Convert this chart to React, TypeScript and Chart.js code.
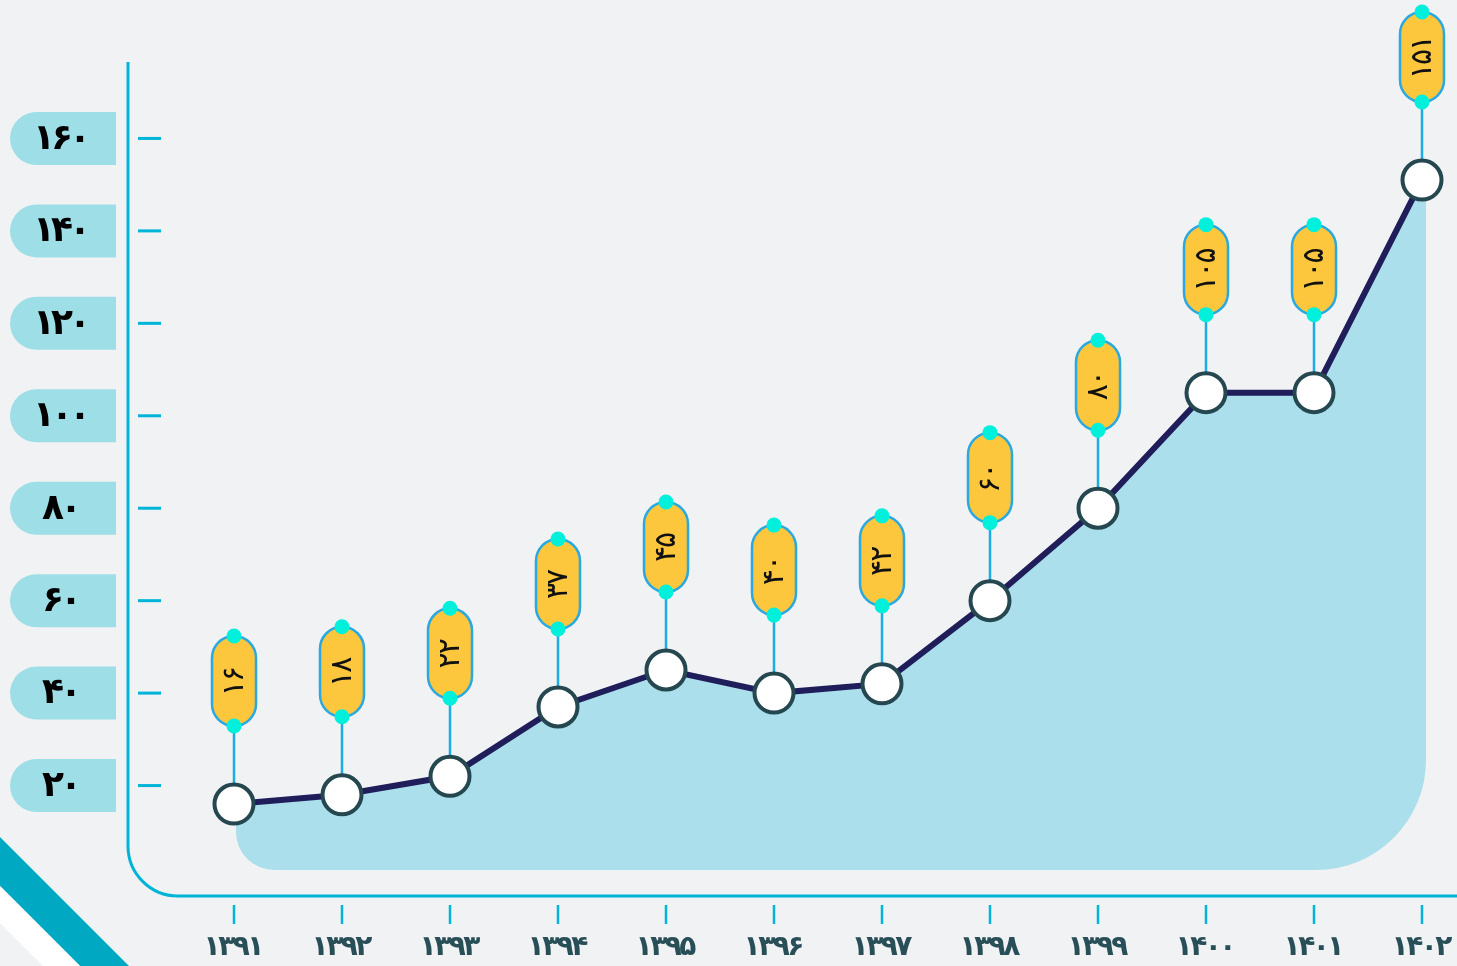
import React, { useEffect, useRef } from 'react';
import { Chart, registerables } from 'chart.js';

Chart.register(...registerables);

// ---- data ----
const years = ['۱۳۹۱', '۱۳۹۲', '۱۳۹۳', '۱۳۹۴', '۱۳۹۵', '۱۳۹۶', '۱۳۹۷', '۱۳۹۸', '۱۳۹۹', '۱۴۰۰', '۱۴۰۱', '۱۴۰۲'];
const values = [16, 18, 22, 37, 45, 40, 42, 60, 80, 105, 105, 151];
const yTicks = [20, 40, 60, 80, 100, 120, 140, 160];

const FA_DIGITS = '۰۱۲۳۴۵۶۷۸۹';
const fa = (n: number) => String(n).replace(/\d/g, (d) => FA_DIGITS[Number(d)]);

const FONT = '"DejaVu Sans", "Noto Sans", sans-serif';

// draw text centred at (cx, cy) with custom spacing between glyphs
function drawTight(ctx: CanvasRenderingContext2D, text: string, cx: number, cy: number, spacing: number) {
  const chars = Array.from(text);
  const widths = chars.map((c) => ctx.measureText(c).width);
  const total = widths.reduce((a, b) => a + b, 0) + spacing * (chars.length - 1);
  let x = cx - total / 2;
  ctx.textAlign = 'left';
  ctx.textBaseline = 'middle';
  chars.forEach((c, i) => {
    ctx.fillText(c, x, cy);
    x += widths[i] + spacing;
  });
}

const decoPlugin = {
  id: 'deco',
  beforeDraw(chart: any) {
    const { ctx, width, height } = chart;
    ctx.save();
    ctx.fillStyle = '#F1F2F4';
    ctx.fillRect(0, 0, width, height);

    // bottom-left stripes
    ctx.fillStyle = '#00A9C1';
    ctx.beginPath();
    ctx.moveTo(0, 837);
    ctx.lineTo(129, 966);
    ctx.lineTo(80, 966);
    ctx.lineTo(0, 886);
    ctx.closePath();
    ctx.fill();
    ctx.fillStyle = '#FFFFFF';
    ctx.beginPath();
    ctx.moveTo(0, 886);
    ctx.lineTo(80, 966);
    ctx.lineTo(43, 966);
    ctx.lineTo(0, 923);
    ctx.closePath();
    ctx.fill();

    // axis frame
    ctx.strokeStyle = '#00B4D8';
    ctx.lineWidth = 3;
    ctx.beginPath();
    ctx.moveTo(128, 62);
    ctx.lineTo(128, 840);
    ctx.arcTo(128, 896, 184, 896, 50);
    ctx.lineTo(width, 896);
    ctx.stroke();

    // y ticks and pills
    const ys = chart.scales.y;
    yTicks.forEach((v) => {
      const py = ys.getPixelForValue(v);
      ctx.strokeStyle = '#00B4D8';
      ctx.lineWidth = 3;
      ctx.beginPath();
      ctx.moveTo(138, py);
      ctx.lineTo(161, py);
      ctx.stroke();

      ctx.fillStyle = '#9DDEE7';
      ctx.beginPath();
      (ctx as any).roundRect(10, py - 26.5, 106, 53, [26.5, 0, 0, 26.5]);
      ctx.fill();

      ctx.fillStyle = '#000000';
      ctx.font = `bold 36px ${FONT}`;
      drawTight(ctx, fa(v), 62, py + 1, -4);
    });

    // x ticks and labels
    const xs = chart.scales.x;
    years.forEach((lab, i) => {
      const px = xs.getPixelForValue(i);
      ctx.strokeStyle = '#00B4D8';
      ctx.lineWidth = 2.5;
      ctx.beginPath();
      ctx.moveTo(px, 905);
      ctx.lineTo(px, 924);
      ctx.stroke();

      ctx.fillStyle = '#284E58';
      ctx.font = `bold 28px ${FONT}`;
      drawTight(ctx, lab, px, 948, -2.5);
    });
    ctx.restore();
  },
  beforeDatasetsDraw(chart: any) {
    const { ctx } = chart;
    const pts = chart.getDatasetMeta(0).data;
    if (!pts.length) return;
    const bottom = chart.scales.y.getPixelForValue(0) - 8;
    const first = pts[0];
    const last = pts[pts.length - 1];
    ctx.save();
    ctx.fillStyle = '#ABDFEB';
    ctx.beginPath();
    ctx.moveTo(first.x + 2, first.y);
    pts.forEach((p: any) => ctx.lineTo(p.x, p.y));
    const rx = last.x + 4;
    ctx.lineTo(rx, last.y);
    ctx.arcTo(rx, bottom, rx - 110, bottom, 110);
    ctx.arcTo(first.x + 2, bottom, first.x + 2, bottom - 38, 38);
    ctx.closePath();
    ctx.fill();

    // connectors
    ctx.strokeStyle = '#1BADE6';
    ctx.lineWidth = 2.5;
    pts.forEach((p: any) => {
      ctx.beginPath();
      ctx.moveTo(p.x, p.y);
      ctx.lineTo(p.x, p.y - 80);
      ctx.stroke();
    });
    ctx.restore();
  },
  afterDatasetsDraw(chart: any) {
    const { ctx } = chart;
    const pts = chart.getDatasetMeta(0).data;
    ctx.save();
    pts.forEach((p: any, i: number) => {
      const bot = p.y - 78;
      const top = p.y - 168;
      const w = 44;
      ctx.fillStyle = '#FDC73D';
      ctx.strokeStyle = '#2AA9E0';
      ctx.lineWidth = 2.5;
      ctx.beginPath();
      (ctx as any).roundRect(p.x - w / 2, top, w, bot - top, 22);
      ctx.fill();
      ctx.stroke();

      ctx.fillStyle = '#00F0DC';
      ctx.beginPath();
      ctx.arc(p.x, top, 7.5, 0, Math.PI * 2);
      ctx.fill();
      ctx.beginPath();
      ctx.arc(p.x, bot, 7.5, 0, Math.PI * 2);
      ctx.fill();

      ctx.save();
      ctx.translate(p.x + 1, (top + bot) / 2);
      ctx.rotate(-Math.PI / 2);
      ctx.fillStyle = '#111111';
      ctx.font = `30px ${FONT}`;
      drawTight(ctx, fa(values[i]), 0, 0, -2);
      ctx.restore();
    });
    ctx.restore();
  },
};

export default function App() {
  const ref = useRef<HTMLCanvasElement>(null);
  useEffect(() => {
    document.body.style.margin = '0';
    const chart = new Chart(ref.current as HTMLCanvasElement, {
      type: 'line',
      data: {
        labels: years,
        datasets: [
          {
            data: values,
            borderColor: '#201D5B',
            borderWidth: 6,
            pointRadius: 19.5,
            pointHoverRadius: 19.5,
            pointBackgroundColor: '#FFFFFF',
            pointBorderColor: '#25474F',
            pointBorderWidth: 4,
            tension: 0,
            fill: false,
            clip: false as any,
          },
        ],
      },
      options: {
        responsive: false,
        animation: false,
        devicePixelRatio: 1,
        layout: { padding: { left: 234, right: 35, top: 46, bottom: 88 } },
        plugins: { legend: { display: false }, tooltip: { enabled: false } },
        events: [],
        scales: {
          x: { type: 'category', display: false, offset: false },
          y: { type: 'linear', display: false, min: 0, max: 180 },
        },
      },
      plugins: [decoPlugin],
    });
    return () => chart.destroy();
  }, []);
  return (
    <div style={{ position: 'absolute', left: 0, top: 0, width: 1457, height: 966 }}>
      <canvas ref={ref} width={1457} height={966} />
    </div>
  );
}
